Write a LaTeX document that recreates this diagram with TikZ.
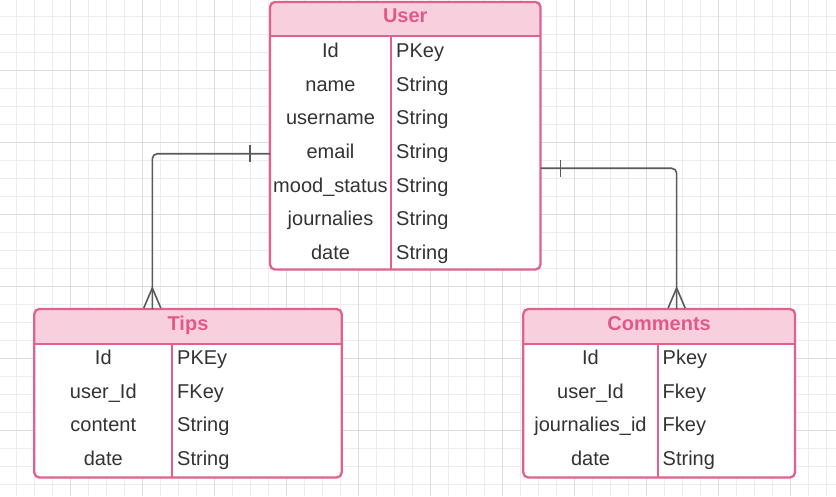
\documentclass[tikz,border=0pt]{standalone}
\usepackage{fontspec}
\setmainfont{Liberation Sans}
\usetikzlibrary{calc}
\definecolor{pinkline}{HTML}{E0628B}
\definecolor{pinkfill}{HTML}{F8D0DD}
\definecolor{pinktext}{HTML}{E05A88}
\definecolor{gridminor}{HTML}{EDEDED}
\definecolor{gridmajor}{HTML}{DCDCDC}
\definecolor{conncol}{HTML}{5A5A5A}
\definecolor{txt}{HTML}{333333}
\begin{document}
\begin{tikzpicture}[x=1pt,y=-1pt,
  tblbody/.style={fill=white,draw=none,rounded corners=5pt,inner sep=0pt,outer sep=0pt},
  tblborder/.style={draw=pinkline,line width=2.3pt,rounded corners=5pt},
  sepline/.style={draw=pinkline,line width=2.3pt},
  hdrfill/.style={fill=pinkfill},
  tbltitle/.style={font=\fontsize{20}{24}\selectfont\bfseries,text=pinktext,inner sep=0pt,anchor=base},
  keycell/.style={font=\fontsize{20}{24}\selectfont,text=txt,inner sep=0pt,anchor=base},
  typecell/.style={font=\fontsize{20}{24}\selectfont,text=txt,inner sep=0pt,anchor=base west},
  conn/.style={draw=conncol,line width=1.6pt,rounded corners=5pt},
  ermark/.style={draw=conncol,line width=1.6pt}
]
\useasboundingbox (0,0) rectangle (836,496);
\fill[white] (0,0) rectangle (836,496);
% grid
\foreach \i in {0,...,45} \draw[gridminor,line width=0.9pt] (16.7+18*\i,0) -- (16.7+18*\i,496);
\foreach \i in {0,...,26} \draw[gridminor,line width=0.9pt] (0,16.7+18*\i) -- (836,16.7+18*\i);
\foreach \i in {0,...,11} \draw[gridmajor,line width=0.9pt] (70.7+72*\i,0) -- (70.7+72*\i,496);
\foreach \i in {0,...,5} \draw[gridmajor,line width=0.9pt] (0,70.7+72*\i) -- (836,70.7+72*\i);

% ---------- User ----------
\node[tblbody,minimum width=270.5pt,minimum height=267.5pt] (user) at (405.25,135.75) {};
\fill[hdrfill] (270,36) {[rounded corners=5pt] -- (270,2) -- (540.5,2)} -- (540.5,36) -- cycle;
\draw[sepline] (270,36) -- (540.5,36);
\draw[sepline] (391,36) -- (391,269.5);
\draw[tblborder] (user.north west) rectangle (user.south east);
\node[tbltitle] (ut) at (405.25,22) {User};
\node[keycell] (uk1) at (330.5,57.3) {Id};
\node[keycell] (uk2) at (330.5,91.0) {name};
\node[keycell] (uk3) at (330.5,124.7) {username};
\node[keycell] (uk4) at (330.5,158.4) {email};
\node[keycell] (uk5) at (330.5,192.1) {mood\_status};
\node[keycell] (uk6) at (330.5,225.8) {journalies};
\node[keycell] (uk7) at (330.5,259.5) {date};
\node[typecell] (uv1) at (396,57.3) {PKey};
\node[typecell] (uv2) at (396,91.0) {String};
\node[typecell] (uv3) at (396,124.7) {String};
\node[typecell] (uv4) at (396,158.4) {String};
\node[typecell] (uv5) at (396,192.1) {String};
\node[typecell] (uv6) at (396,225.8) {String};
\node[typecell] (uv7) at (396,259.5) {String};

% ---------- Tips ----------
\node[tblbody,minimum width=307.4pt,minimum height=168.5pt] (tips) at (188,393.25) {};
\fill[hdrfill] (34.3,344) {[rounded corners=5pt] -- (34.3,309) -- (341.7,309)} -- (341.7,344) -- cycle;
\draw[sepline] (34.3,344) -- (341.7,344);
\draw[sepline] (172.3,344) -- (172.3,477.5);
\draw[tblborder] (tips.north west) rectangle (tips.south east);
\node[tbltitle] (tt) at (188,330.7) {Tips};
\node[keycell] (tk1) at (103.3,364.3) {Id};
\node[keycell] (tk2) at (103.3,398.1) {user\_Id};
\node[keycell] (tk3) at (103.3,431.9) {content};
\node[keycell] (tk4) at (103.3,465.7) {date};
\node[typecell] (tv1) at (177,364.3) {PKEy};
\node[typecell] (tv2) at (177,398.1) {FKey};
\node[typecell] (tv3) at (177,431.9) {String};
\node[typecell] (tv4) at (177,465.7) {String};

% ---------- Comments ----------
\node[tblbody,minimum width=271.7pt,minimum height=168.5pt] (comments) at (659.15,393.25) {};
\fill[hdrfill] (523.3,344) {[rounded corners=5pt] -- (523.3,309) -- (795,309)} -- (795,344) -- cycle;
\draw[sepline] (523.3,344) -- (795,344);
\draw[sepline] (657.7,344) -- (657.7,477.5);
\draw[tblborder] (comments.north west) rectangle (comments.south east);
\node[tbltitle] (ct) at (659.15,330.7) {Comments};
\node[keycell] (ck1) at (590.5,364.3) {Id};
\node[keycell] (ck2) at (590.5,398.1) {user\_Id};
\node[keycell] (ck3) at (590.5,431.9) {journalies\_id};
\node[keycell] (ck4) at (590.5,465.7) {date};
\node[typecell] (cv1) at (662.5,364.3) {Pkey};
\node[typecell] (cv2) at (662.5,398.1) {Fkey};
\node[typecell] (cv3) at (662.5,431.9) {Fkey};
\node[typecell] (cv4) at (662.5,465.7) {String};

% ---------- connectors ----------
\coordinate (lS) at ([yshift=-18pt]user.west);
\coordinate (lE) at ([xshift=-35.7pt]tips.north);
\coordinate (rS) at ([yshift=-32.5pt]user.east);
\coordinate (rE) at ([xshift=17.5pt]comments.north);
\draw[conn] (lS) -| (lE);
\draw[conn] (rS) -| (rE);
% one-ticks
\draw[ermark] ($(lS)+(-20,-8.5)$) -- ($(lS)+(-20,8.5)$);
\draw[ermark] ($(rS)+(20,-8.5)$) -- ($(rS)+(20,8.5)$);
% crow's feet
\draw[ermark] ($(lE)+(-8.5,-1)$) -- ($(lE)+(0,-21)$) -- ($(lE)+(8.5,-1)$);
\draw[ermark] ($(rE)+(-8.5,-1)$) -- ($(rE)+(0,-21)$) -- ($(rE)+(8.5,-1)$);
\end{tikzpicture}
\end{document}
